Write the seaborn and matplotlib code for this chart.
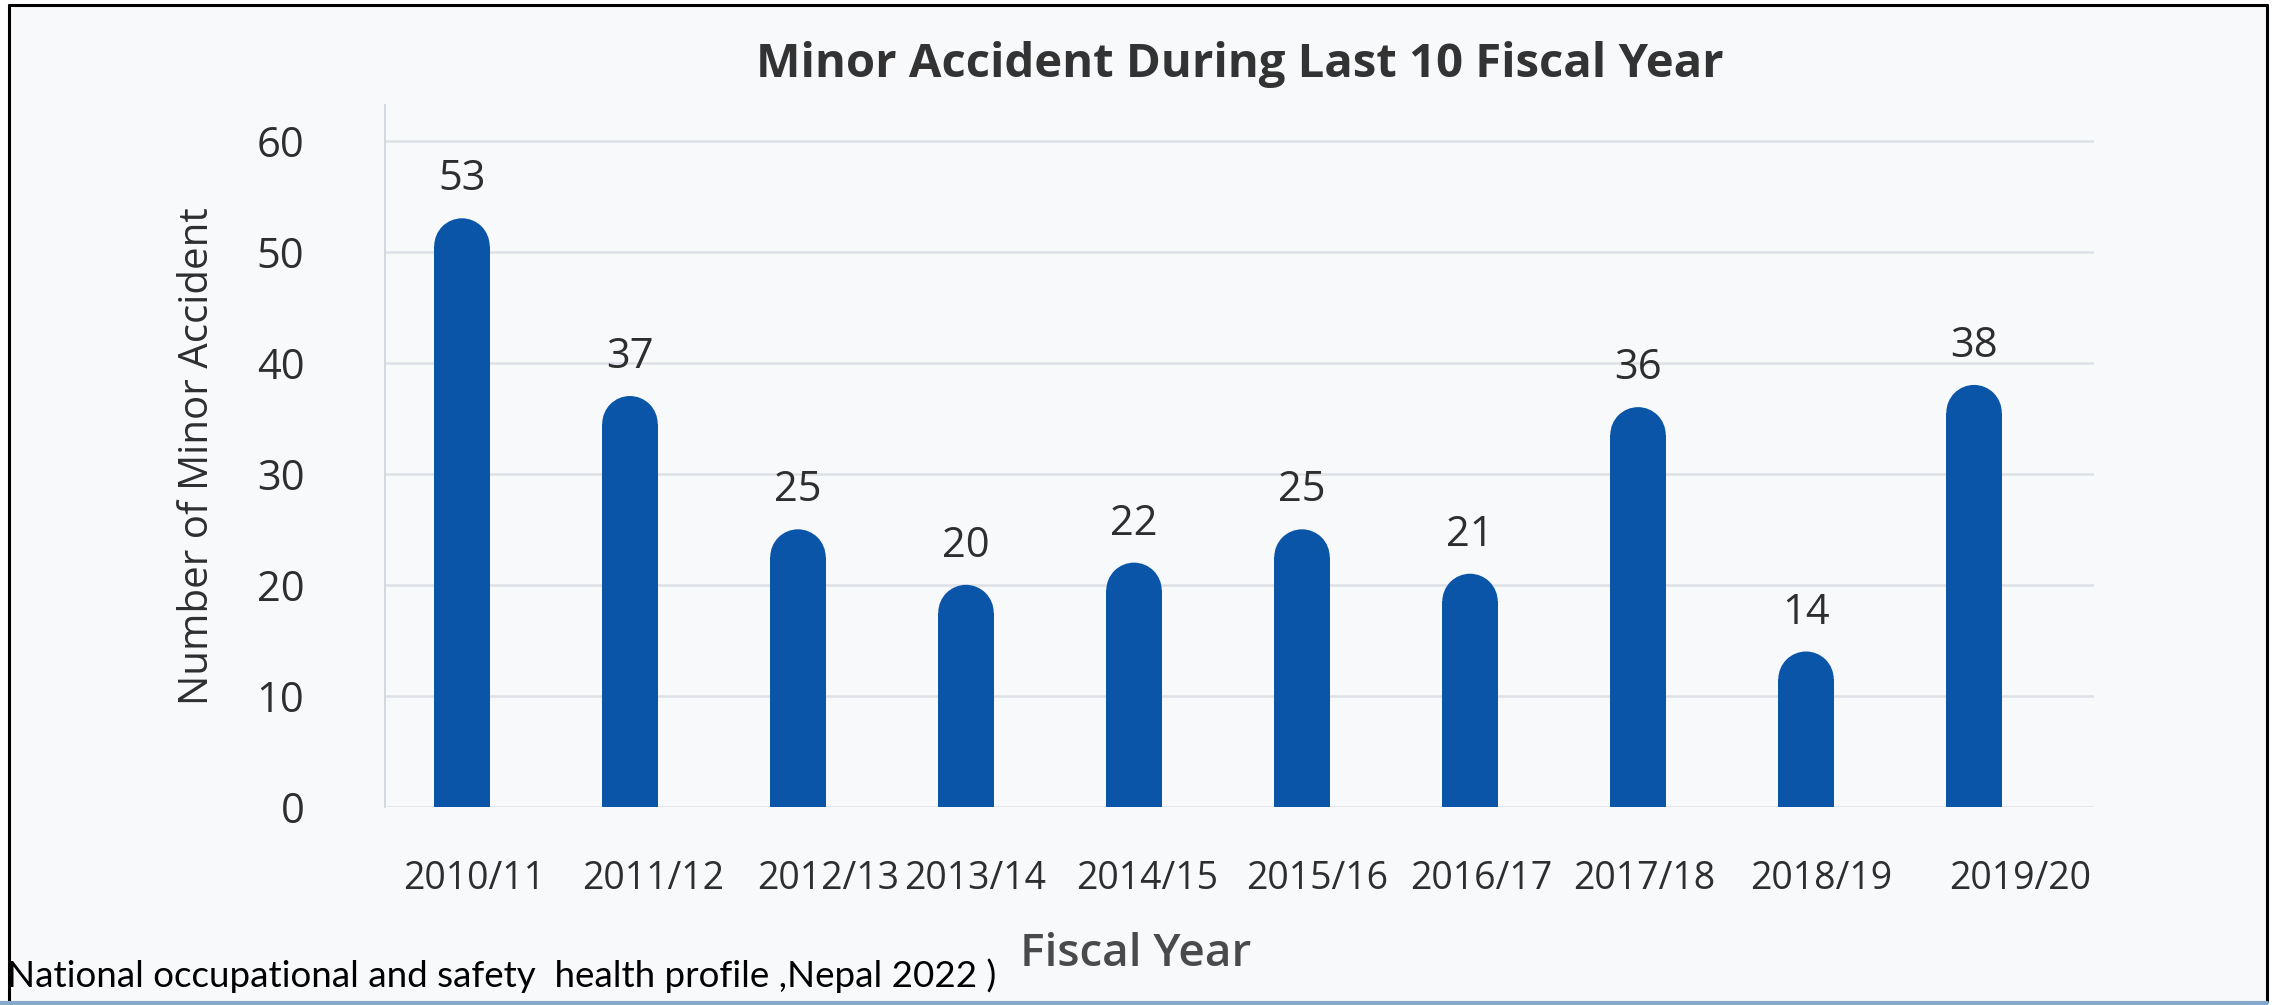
import matplotlib
matplotlib.use("Agg")
import matplotlib.pyplot as plt
import matplotlib.transforms as mtransforms
from matplotlib.patches import Ellipse, Rectangle
from matplotlib.lines import Line2D
import seaborn as sns
import pandas as pd

# ---- data ----
fiscal_years = ["2010/11", "2011/12", "2012/13", "2013/14", "2014/15",
                "2015/16", "2016/17", "2017/18", "2018/19", "2019/20"]
minor_accidents = [53, 37, 25, 20, 22, 25, 21, 36, 14, 38]
y_ticks = [0, 10, 20, 30, 40, 50, 60]

title_text = "Minor Accident During Last 10 Fiscal Year"
x_label = "Fiscal Year"
y_label = "Number of Minor Accident"
source_text = "National occupational and safety  health profile ,Nepal 2022 )"

# ---- style ----
sns.set_style("white")
plt.rcParams["font.family"] = ["Open Sans", "DejaVu Sans"]

W, H = 2280, 1005
DPI = 100
fig = plt.figure(figsize=(W / DPI, H / DPI), dpi=DPI, facecolor="white")

bg = "#F7F9FB"
bar_color = "#0B55A8"
text_color = "#2E2E2E"
grid_color = "#DDE1E6"

# framed background of the screenshot
fig.patches.append(Rectangle((9 / W, 1 - 1001 / H), (2267 - 9) / W, (1001 - 5) / H,
                             transform=fig.transFigure, facecolor=bg, edgecolor="none", zorder=-5))
fig.add_artist(Line2D([9 / W, 2267 / W], [1 - 5 / H, 1 - 5 / H], transform=fig.transFigure,
                      color="black", lw=2.2))
fig.add_artist(Line2D([9 / W, 9 / W], [1 - 5 / H, 1 - 1001 / H], transform=fig.transFigure,
                      color="black", lw=2.2))
fig.add_artist(Line2D([2267 / W, 2267 / W], [1 - 5 / H, 1 - 1001 / H], transform=fig.transFigure,
                      color="black", lw=2.2))
fig.add_artist(Line2D([0, 2267 / W], [1 - 1003 / H, 1 - 1003 / H], transform=fig.transFigure,
                      color="#86A8CC", lw=3))

ax_left, ax_right, ax_top, ax_bottom = 385, 2094, 105, 807
ax = fig.add_axes([ax_left / W, 1 - ax_bottom / H, (ax_right - ax_left) / W, (ax_bottom - ax_top) / H])
ax.set_facecolor("none")
ax.set_zorder(2)

df = pd.DataFrame({"year": fiscal_years, "count": minor_accidents})
sns.barplot(data=df, x="year", y="count", color=bar_color, width=0.33, saturation=1,
            edgecolor="none", linewidth=0, ax=ax, zorder=3)

ax.set_xlim(-0.458, 9.714)
ax.set_ylim(0, 63.2)
ax.set_yticks(y_ticks)
ax.yaxis.grid(True, color=grid_color, lw=1.8, zorder=0)
ax.set_axisbelow(True)
for s in ["top", "right", "bottom"]:
    ax.spines[s].set_visible(False)
ax.spines["left"].set_color("#D3D9E0")
ax.spines["left"].set_linewidth(1.4)
ax.tick_params(axis="both", length=0)
ax.tick_params(axis="y", labelsize=30, labelcolor=text_color, pad=58)
ax.tick_params(axis="x", labelsize=27, labelcolor=text_color, pad=38)
ax.set_xlabel("")
ax.set_ylabel(y_label, fontsize=29, color=text_color, labelpad=28)

# shift tick labels slightly as in the reference
label_dx = [12, 23, 30, 9, 13, 15, 11, 6, 15, 46]
for lab, dx in zip(ax.get_xticklabels(), label_dx):
    lab.set_transform(lab.get_transform() + mtransforms.ScaledTranslation(dx / DPI, 0, fig.dpi_scale_trans))

# rounded tops for the bars
px_per_unit_y = (ax_bottom - ax_top) / 63.2
for patch in list(ax.patches):
    x0, w, h = patch.get_x(), patch.get_width(), patch.get_height()
    w_px = w * (ax_right - ax_left) / (9.714 + 0.458)
    r = (w_px / 2) / px_per_unit_y
    patch.set_height(h - r)
    ax.add_patch(Ellipse((x0 + w / 2, h - r), w, 2 * r, facecolor=bar_color,
                         edgecolor="none", linewidth=0, zorder=3))

# value labels
for i, v in enumerate(minor_accidents):
    ax.annotate(str(v), (i, v), xytext=(0, 28), textcoords="offset points",
                ha="center", va="center", fontsize=30, color=text_color)

fig.text(1240 / W, 1 - 64 / H, title_text, ha="center", va="center",
         fontsize=34, fontweight="bold", color="#333333")
fig.text(1136 / W, 1 - 954 / H, x_label, ha="center", va="center",
         fontsize=33, color="#4A4A4A", fontweight="semibold")
fig.text(7 / W, 1 - 987 / H, source_text, ha="left", va="baseline",
         fontsize=26.5, color="black", family=["Lato", "DejaVu Sans"])

fig.savefig("out.png", dpi=DPI, facecolor="white")
